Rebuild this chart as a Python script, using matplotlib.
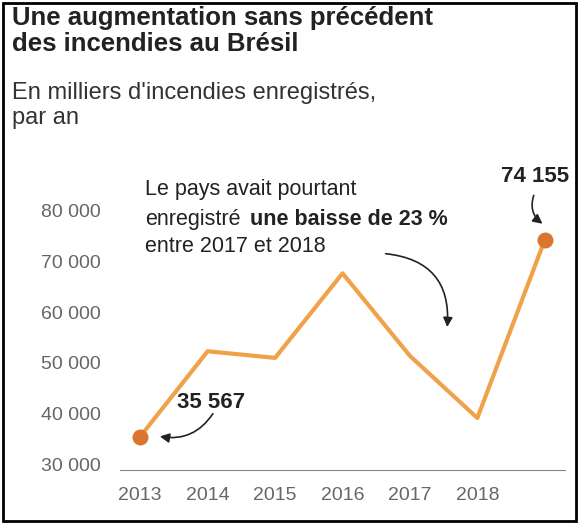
import matplotlib
matplotlib.use("Agg")
import matplotlib.pyplot as plt
from matplotlib.patches import FancyArrowPatch, Rectangle

plt.rcParams["font.family"] = ["Liberation Sans", "DejaVu Sans"]

years = [2013, 2014, 2015, 2016, 2017, 2018, 2019]
fires = [35567, 52300, 51000, 67600, 51400, 39200, 74155]
xtick_labels = ["2013", "2014", "2015", "2016", "2017", "2018"]
ytick_vals = [30000, 40000, 50000, 60000, 70000, 80000]
ytick_labels = ["30 000", "40 000", "50 000", "60 000", "70 000", "80 000"]

W, H = 579, 524
fig = plt.figure(figsize=(W/100, H/100), dpi=100)
fig.patch.set_facecolor("white")
fig.add_artist(Rectangle((0.006, 0.006), 0.988, 0.988, transform=fig.transFigure,
                         fill=False, lw=2, ec="black"))

ax = fig.add_axes([120/W, 1-470/H, (565-120)/W, (470-205)/H])
line = "#f0a24a"; dot = "#d9752f"
ax.plot(years, fires, color=line, lw=3, zorder=2)
ax.scatter([years[0], years[-1]], [fires[0], fires[-1]], s=110, color=dot, zorder=3)
ax.set_xlim(2012.7, 2019.3)
ax.set_ylim(29000, 81000)
ax.set_xticks(years[:6]); ax.set_xticklabels(xtick_labels)
ax.set_yticks(ytick_vals); ax.set_yticklabels(ytick_labels)
for s in ["top", "right", "left"]:
    ax.spines[s].set_visible(False)
ax.spines["bottom"].set_color("#888888")
ax.spines["bottom"].set_position(("data", 29000))
ax.tick_params(length=0, labelsize=14, colors="#666666", pad=12)
ax.tick_params(axis="y", pad=14)

fig.text(12/W, 1-6/H, "Une augmentation sans précédent\ndes incendies au Brésil",
         fontsize=18.5, fontweight="bold", va="top", ha="left", linespacing=1.1, color="#222222")
fig.text(12/W, 1-82/H, "En milliers d'incendies enregistrés,\npar an",
         fontsize=17, va="top", ha="left", color="#333333", linespacing=1.2)

ax.text(2013.55, 42200, "35 567", fontsize=16, fontweight="bold", ha="left", va="center", color="#222222")
ax.text(2018.85, 86500, "74 155", fontsize=16, fontweight="bold", ha="center", va="center", color="#222222")
fs = 15.5
fig.text(145/W, 1-190/H, "Le pays avait pourtant", fontsize=fs, ha="left", va="center", color="#222222")
fig.text(145/W, 1-219/H, "enregistré", fontsize=fs, ha="left", va="center", color="#222222")
fig.text(250/W, 1-219/H, "une baisse de 23 %", fontsize=fs, fontweight="bold", ha="left", va="center", color="#222222")
fig.text(145/W, 1-246/H, "entre 2017 et 2018", fontsize=fs, ha="left", va="center", color="#222222")

def arrow(p1, p2, rad):
    a = FancyArrowPatch(p1, p2, connectionstyle=f"arc3,rad={rad}", arrowstyle="-|>",
                        mutation_scale=14, lw=1.2, color="#222222", clip_on=False)
    ax.add_patch(a)
arrow((2014.1, 40500), (2013.25, 35700), -0.35)
arrow((2016.6, 71500), (2017.55, 56500), -0.5)
arrow((2018.85, 83400), (2019.0, 77000), 0.4)

fig.savefig("out.png", dpi=100)
